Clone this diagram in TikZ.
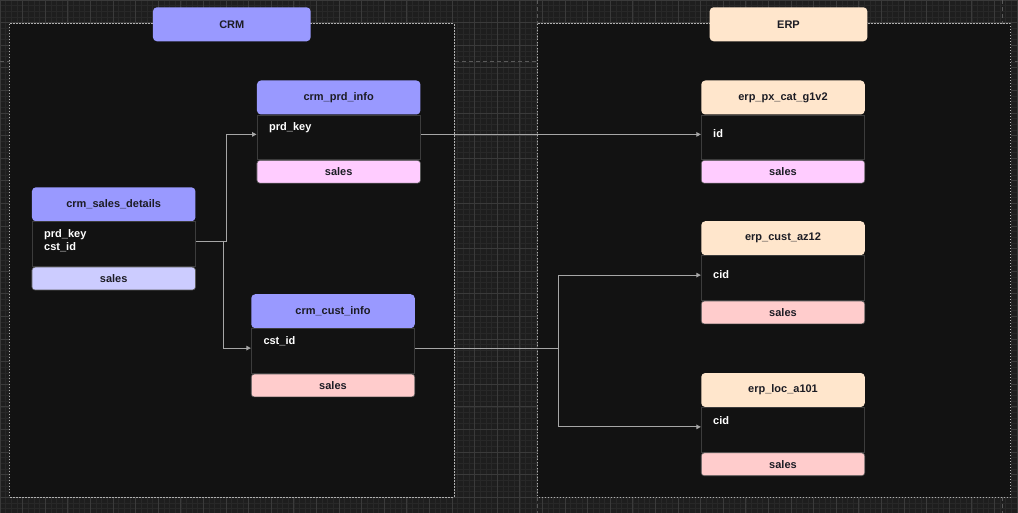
\documentclass[tikz,border=0pt]{standalone}
\usepackage{fontspec}
\setmainfont{Liberation Sans}
\usepackage{xcolor}
\usetikzlibrary{arrows.meta}

\definecolor{canvas}{HTML}{1E1E1E}
\definecolor{panel}{HTML}{121212}
\definecolor{gridmajor}{HTML}{3A3A3A}
\definecolor{gridminor}{HTML}{282828}
\definecolor{pagebreak}{HTML}{5A5A5A}
\definecolor{groupline}{HTML}{B0B0B0}
\definecolor{bodyline}{HTML}{3C3C3C}
\definecolor{linkgray}{HTML}{A6A6A6}
\definecolor{crmblue}{HTML}{9999FF}
\definecolor{erppeach}{HTML}{FFE6CC}
\definecolor{lightblue}{HTML}{CCCCFF}
\definecolor{lightpink}{HTML}{FFCCFF}
\definecolor{lightred}{HTML}{FFCCCC}
\definecolor{darktext}{HTML}{1C1C24}

\begin{document}
\begin{tikzpicture}[x=1pt, y=-1pt,
  groupbox/.style={draw=groupline, line width=1pt, dash pattern=on 1.3pt off 1.7pt, fill=panel},
  grouptitle/.style={rounded corners=4pt, minimum width=157.7pt, minimum height=34pt, inner sep=0pt,
    font=\bfseries\fontsize{11}{13}\selectfont, text=darktext},
  tablehead/.style={rounded corners=4pt, minimum width=163.5pt, minimum height=34pt, inner sep=0pt,
    font=\bfseries\fontsize{11}{13}\selectfont, text=darktext},
  tablebody/.style={draw=bodyline, line width=0.8pt, fill=panel, minimum width=163.5pt, minimum height=44.6pt,
    inner sep=0pt, anchor=north},
  salesbox/.style={rounded corners=3pt, draw=gray!70!black, line width=0.6pt, minimum width=163.5pt,
    minimum height=22.8pt, inner sep=0pt, anchor=north, font=\bfseries\fontsize{11}{13}\selectfont, text=darktext},
  fieldtext/.style={anchor=west, inner sep=0pt, align=left, text=white,
    font=\bfseries\fontsize{11}{13}\selectfont},
  link/.style={draw=linkgray, line width=1pt, -{Triangle[length=4.5pt,width=4.5pt]}}]
  \useasboundingbox (0,0) rectangle (1018,513);
  % canvas and grid
  \fill[canvas] (0,0) rectangle (1018,513);
  \draw[gridminor, line width=0.6pt, step=5.65pt] (0,0) grid (1018,513);
  \draw[gridmajor, line width=0.8pt, step=22.6pt] (0,0) grid (1018,513);
  % page breaks
  \draw[pagebreak, line width=1.2pt, dash pattern=on 4pt off 3pt] (0,61.7) -- (1018,61.7);
  \draw[pagebreak, line width=1.2pt, dash pattern=on 4pt off 3pt] (537.3,0) -- (537.3,513);
  \draw[pagebreak, line width=1.2pt, dash pattern=on 4pt off 3pt] (1002.5,0) -- (1002.5,513);
  % source systems
  \draw[groupbox] (9.5,24) rectangle (454,497);
  \draw[groupbox] (537.7,24) rectangle (1010.7,497);
  \node[grouptitle, fill=crmblue] (crmtitle) at (231.8,24.3) {CRM};
  \node[grouptitle, fill=erppeach] (erptitle) at (788.5,24.3) {ERP};
  % crm_sales_details
  \node[tablehead, fill=crmblue] (sdhead) at (113.7,204.3) {crm\_sales\_details};
  \node[tablebody] (sdbody) at (sdhead.south) {};
  \node[salesbox, fill=lightblue] (sdsales) at (sdbody.south) {sales};
  \node[fieldtext] (sdkeys) at (44,241) {prd\_key\\cst\_id};
  % crm_prd_info
  \node[tablehead, fill=crmblue] (prdhead) at (338.7,97.5) {crm\_prd\_info};
  \node[tablebody] (prdbody) at (prdhead.south) {};
  \node[salesbox, fill=lightpink] (prdsales) at (prdbody.south) {sales};
  \node[fieldtext] (prdkey) at (269,128) {prd\_key};
  % crm_cust_info
  \node[tablehead, fill=crmblue] (custhead) at (333,311.2) {crm\_cust\_info};
  \node[tablebody] (custbody) at (custhead.south) {};
  \node[salesbox, fill=lightred] (custsales) at (custbody.south) {sales};
  \node[fieldtext] (custid) at (263.3,341.5) {cst\_id};
  % erp_px_cat_g1v2
  \node[tablehead, fill=erppeach] (pxhead) at (783,97.5) {erp\_px\_cat\_g1v2};
  \node[tablebody] (pxbody) at (pxhead.south) {};
  \node[salesbox, fill=lightpink] (pxsales) at (pxbody.south) {sales};
  \node[fieldtext] (pxid) at (713,134) {id};
  % erp_cust_az12
  \node[tablehead, fill=erppeach] (azhead) at (783,238.2) {erp\_cust\_az12};
  \node[tablebody] (azbody) at (azhead.south) {};
  \node[salesbox, fill=lightred] (azsales) at (azbody.south) {sales};
  \node[fieldtext] (azcid) at (713,274.3) {cid};
  % erp_loc_a101
  \node[tablehead, fill=erppeach] (lochead) at (783,390) {erp\_loc\_a101};
  \node[tablebody] (locbody) at (lochead.south) {};
  \node[salesbox, fill=lightred] (locsales) at (locbody.south) {sales};
  \node[fieldtext] (loccid) at (713,420.3) {cid};
  % joins
  \draw[link] ([yshift=3pt]sdbody.east) -- ++(31,0) |- ([yshift=3pt]prdbody.west);
  \draw[link] ([yshift=3pt]sdbody.east) -- ++(28,0) |- ([yshift=3pt]custbody.west);
  \draw[link] ([yshift=3pt]prdbody.east) -- ([yshift=3pt]pxbody.west);
  \draw[link] ([yshift=3pt]custbody.east) -- ++(143.6,0) |- ([yshift=3pt]azbody.west);
  \draw[link] ([yshift=3pt]custbody.east) -- ++(143.6,0) |- ([yshift=3pt]locbody.west);
\end{tikzpicture}
\end{document}
